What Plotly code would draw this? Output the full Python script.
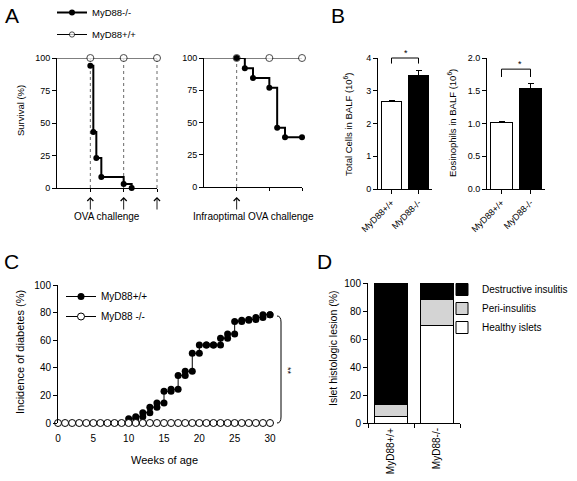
import plotly.graph_objects as go

W, H = 577, 481
FONT = "Liberation Sans, Arial, sans-serif"

# ---------------- Panel A data (survival) ----------------
ova_time_ko = [1.0, 1.09, 1.18, 1.33, 2.0, 2.24]
ova_surv_ko = [94, 43, 23, 8.5, 3, 0]
ova_time_wt = [0, 1, 2, 3]
ova_surv_wt = [100, 100, 100, 100]
ova_wt_marker = [0, 7, 7, 7]
inf_time_ko = [1.0, 1.25, 1.5, 2.0, 2.24, 2.48, 3.0]
inf_surv_ko = [100, 92, 84.5, 77, 46, 38.5, 38.5]
inf_time_wt = [0, 1, 2, 3]
inf_surv_wt = [100, 100, 100, 100]
ova_challenges = [1, 2, 3]
inf_challenges = [1]

# ---------------- Panel B data (BALF) ----------------
genotypes_b = ["MyD88+/+", "MyD88-/-"]
total_cells = [2.67, 3.48]
total_cells_err = [0.03, 0.14]
eosinophils = [1.01, 1.54]
eosinophils_err = [0.02, 0.07]
bar_colors_b = ["white", "black"]

# ---------------- Panel C data (diabetes incidence) ----------------
weeks_all = [0, 1, 2, 3, 4, 5, 6, 7, 8, 9, 10, 11, 12, 13, 14, 15, 16, 17, 18, 19, 20,
             21, 22, 23, 24, 25, 26, 27, 28, 29, 30]
ko_incidence = [0, 0, 0, 0, 0, 0, 0, 0, 0, 0, 0, 0, 0, 0, 0, 0, 0, 0, 0, 0, 0,
                0, 0, 0, 0, 0, 0, 0, 0, 0, 0]
wt_weeks = [10, 11, 12, 13, 14, 15, 16, 17, 18, 19, 20, 21, 22, 23, 24, 25, 26, 27, 28, 29, 30]
wt_incidence = [3, 4.5, 7.5, 11.5, 14.5, 23, 24.5, 34.5, 37.5, 50.5, 56.5, 56.5, 56.5,
                61.5, 64.5, 73.5, 74.5, 75, 76.5, 78.5, 78.5]
week_ticks = [0, 5, 10, 15, 20, 25, 30]

# ---------------- Panel D data (islet histology) ----------------
islet_groups = ["MyD88+/+", "MyD88-/-"]
healthy = [5, 69.5]
peri = [8.5, 19]
destructive = [86.5, 11.5]

# ---------------- layout geometry (pixels) ----------------
AX = {
    "A1": dict(x=(57, 157), y=(58, 188), xr=(0, 3), yr=(0, 100)),
    "A2": dict(x=(204, 302), y=(58, 187), xr=(0, 3), yr=(0, 100)),
    "B1": dict(x=(378, 432), y=(58, 189), xr=(-0.5, 1.5), yr=(0, 4)),
    "B2": dict(x=(487, 545), y=(58, 189), xr=(-0.5, 1.5), yr=(0, 2)),
    "C": dict(x=(58, 270), y=(285, 423), xr=(0, 30), yr=(0, 100)),
    "D": dict(x=(368, 460), y=(283, 423), xr=(-0.5, 1.5), yr=(0, 100)),
}


def px(xp):
    return xp / W


def py(yp):
    return 1 - yp / H


def dx(key, v):
    a = AX[key]
    return px(a["x"][0] + (v - a["xr"][0]) / (a["xr"][1] - a["xr"][0]) * (a["x"][1] - a["x"][0]))


def dy(key, v):
    a = AX[key]
    return py(a["y"][1] - (v - a["yr"][0]) / (a["yr"][1] - a["yr"][0]) * (a["y"][1] - a["y"][0]))


fig = go.Figure()

# ---- Panel A traces ----
fig.add_trace(go.Scatter(x=ova_time_ko, y=ova_surv_ko, mode="lines+markers", name="MyD88-/-",
                         line=dict(color="black", width=2, shape="hv"),
                         marker=dict(color="black", size=6), xaxis="x", yaxis="y",
                         legend="legend", legendgroup="a1", cliponaxis=False))
fig.add_trace(go.Scatter(x=ova_time_wt, y=ova_surv_wt, mode="lines+markers", name="MyD88+/+",
                         line=dict(color="black", width=1),
                         marker=dict(color="white", size=ova_wt_marker, line=dict(color="black", width=1)),
                         xaxis="x", yaxis="y", legend="legend", legendgroup="a2", cliponaxis=False))
fig.add_trace(go.Scatter(x=inf_time_wt, y=inf_surv_wt, mode="lines+markers", showlegend=False,
                         line=dict(color="black", width=1),
                         marker=dict(color="white", size=ova_wt_marker, line=dict(color="black", width=1)),
                         xaxis="x2", yaxis="y2", cliponaxis=False))
fig.add_trace(go.Scatter(x=inf_time_ko, y=inf_surv_ko, mode="lines+markers", showlegend=False,
                         line=dict(color="black", width=2, shape="hv"),
                         marker=dict(color="black", size=6), xaxis="x2", yaxis="y2", cliponaxis=False))

# ---- Panel B traces ----
fig.add_trace(go.Bar(x=genotypes_b, y=total_cells, width=0.72, showlegend=False,
                     marker=dict(color=bar_colors_b, line=dict(color="black", width=1)),
                     error_y=dict(type="data", array=total_cells_err, arrayminus=[0, 0],
                                  symmetric=False, color="black", thickness=1, width=3),
                     xaxis="x3", yaxis="y3"))
fig.add_trace(go.Bar(x=genotypes_b, y=eosinophils, width=0.78, showlegend=False,
                     marker=dict(color=bar_colors_b, line=dict(color="black", width=1)),
                     error_y=dict(type="data", array=eosinophils_err, arrayminus=[0, 0],
                                  symmetric=False, color="black", thickness=1, width=3),
                     xaxis="x4", yaxis="y4"))

# ---- Panel C traces ----
fig.add_trace(go.Scatter(x=wt_weeks, y=wt_incidence, mode="lines+markers", name="MyD88+/+",
                         line=dict(color="black", width=1, shape="hv"),
                         marker=dict(color="black", size=7), xaxis="x5", yaxis="y5",
                         legend="legend2", legendgroup="c1", cliponaxis=False))
fig.add_trace(go.Scatter(x=wt_weeks[1:], y=wt_incidence[:-1], mode="markers", showlegend=False,
                         marker=dict(color="black", size=7), xaxis="x5", yaxis="y5", cliponaxis=False))
fig.add_trace(go.Scatter(x=weeks_all, y=ko_incidence, mode="lines+markers", name="MyD88 -/-",
                         line=dict(color="black", width=1),
                         marker=dict(color="white", size=7, line=dict(color="black", width=1)),
                         xaxis="x5", yaxis="y5", legend="legend2", legendgroup="c2", cliponaxis=False))

# ---- Panel D traces ----
for name, vals, col in [("Healthy islets", healthy, "white"),
                        ("Peri-insulitis", peri, "#d4d4d4"),
                        ("Destructive insulitis", destructive, "black")]:
    fig.add_trace(go.Bar(x=islet_groups, y=vals, name=name, width=0.7,
                         marker=dict(color=col, line=dict(color="black", width=1)),
                         xaxis="x6", yaxis="y6", legend="legend3"))

# ---------------- axes ----------------
base = dict(showline=True, linecolor="black", linewidth=1, ticks="outside", ticklen=4,
            tickcolor="black", tickwidth=1, showgrid=False, zeroline=False,
            tickfont=dict(size=9, color="black", family=FONT))


def axdom(key):
    a = AX[key]
    return [px(a["x"][0]), px(a["x"][1])], [py(a["y"][1]), py(a["y"][0])]


axmap = {"A1": ("xaxis", "yaxis", "x", "y"), "A2": ("xaxis2", "yaxis2", "x2", "y2"),
         "B1": ("xaxis3", "yaxis3", "x3", "y3"), "B2": ("xaxis4", "yaxis4", "x4", "y4"),
         "C": ("xaxis5", "yaxis5", "x5", "y5"), "D": ("xaxis6", "yaxis6", "x6", "y6")}

lay = {}
for key, (xn, yn, xs, ys) in axmap.items():
    xdom, ydom = axdom(key)
    a = AX[key]
    lay[xn] = dict(base, domain=xdom, range=list(a["xr"]), anchor=ys)
    lay[yn] = dict(base, domain=ydom, range=list(a["yr"]), anchor=xs)

for k in ("xaxis", "xaxis2"):
    lay[k].update(tickvals=[1, 2, 3], showticklabels=False, ticklen=3)
for k in ("yaxis", "yaxis2"):
    lay[k].update(tickvals=[0, 25, 50, 75, 100])
lay["xaxis3"].update(type="category", tickangle=-45)
lay["xaxis4"].update(type="category", tickangle=-45)
lay["yaxis3"].update(tickvals=[0, 1, 2, 3, 4])
lay["yaxis4"].update(tickvals=[0, 0.5, 1.0, 1.5, 2.0], tickformat=".1f")
lay["xaxis5"].update(showline=False, tickvals=week_ticks, ticklen=6, tickcolor="rgba(0,0,0,0)",
                     tickfont=dict(size=10, color="black", family=FONT))
lay["yaxis5"].update(tickvals=[0, 20, 40, 60, 80, 100], tickfont=dict(size=10, color="black", family=FONT))
lay["xaxis6"].update(type="category", tickangle=-90, tickson="boundaries",
                     tickfont=dict(size=10, color="black", family=FONT))
lay["yaxis6"].update(tickvals=[0, 20, 40, 60, 80, 100], tickfont=dict(size=10, color="black", family=FONT))

fig.update_layout(**lay)

# ---------------- shapes ----------------
shapes = []
for t in ova_challenges:
    shapes.append(dict(type="line", xref="paper", yref="paper", x0=dx("A1", t), x1=dx("A1", t),
                       y0=dy("A1", 0), y1=dy("A1", 100), line=dict(color="#444", width=0.8, dash="dot"),
                       layer="below"))
for t in inf_challenges:
    shapes.append(dict(type="line", xref="paper", yref="paper", x0=dx("A2", t), x1=dx("A2", t),
                       y0=dy("A2", 0), y1=dy("A2", 100), line=dict(color="#444", width=0.8, dash="dot"),
                       layer="below"))


def bracket(key, x0, x1, ytop, yl, yr):
    return dict(type="path", xref="paper", yref="paper",
                path=f"M {dx(key, x0)},{dy(key, yl)} L {dx(key, x0)},{dy(key, ytop)} "
                     f"L {dx(key, x1)},{dy(key, ytop)} L {dx(key, x1)},{dy(key, yr)}",
                line=dict(color="black", width=1))


shapes.append(bracket("B1", 0, 1, 4.0, 3.83, 3.83))
shapes.append(bracket("B2", 0, 1, 1.83, 1.71, 1.71))

# C bracket (curly-ish)
bx0, bx1 = px(277), px(281)
shapes.append(dict(type="path", xref="paper", yref="paper",
                   path=f"M {bx0},{py(316)} Q {bx1},{py(316)} {bx1},{py(322)} L {bx1},{py(417)} "
                        f"Q {bx1},{py(423)} {bx0},{py(423)}",
                   line=dict(color="black", width=1)))
fig.update_layout(shapes=shapes)

# ---------------- annotations ----------------
ann = []


def text(x, y, s, size=10, angle=0, xanchor="center", yanchor="middle"):
    ann.append(dict(x=px(x), y=py(y), xref="paper", yref="paper", text=s, showarrow=False,
                    textangle=angle, xanchor=xanchor, yanchor=yanchor,
                    font=dict(size=size, color="black", family=FONT)))


text(12, 15, "A", 21)
text(338, 15, "B", 21)
text(11, 261, "C", 21)
text(324, 261, "D", 21)

text(20, 111, "Survival (%)", 9.5, -90)
text(107, 216, "OVA challenge", 10)
text(253, 216, "Infraoptimal OVA challenge", 10)
text(348, 124, "Total Cells in BALF (10<sup>6</sup>)", 9.5, -90)
text(452, 123, "Eosinophils in BALF (10<sup>6</sup>)", 9.5, -90)
text(406, 53, "*", 9)
text(520, 64, "*", 9)
text(20, 352, "Incidence of diabetes (%)", 11, -90)
text(165, 460, "Weeks of age", 11)
text(288, 371, "**", 9, 90)
text(333, 348, "Islet histologic lesion (%)", 10.5, -90)

for t in ova_challenges:
    ann.append(dict(x=t, xref="x", y=py(197), yref="paper", ax=0, ay=14, showarrow=True,
                    arrowhead=4, arrowsize=1.3, arrowwidth=0.9, arrowcolor="black", text=""))
for t in inf_challenges:
    ann.append(dict(x=t, xref="x2", y=py(197), yref="paper", ax=0, ay=14, showarrow=True,
                    arrowhead=4, arrowsize=1.3, arrowwidth=0.9, arrowcolor="black", text=""))
fig.update_layout(annotations=ann)

# ---------------- legends ----------------
leg_common = dict(xanchor="left", yanchor="top", bgcolor="rgba(0,0,0,0)", borderwidth=0,
                  traceorder="grouped")
fig.update_layout(
    legend=dict(leg_common, x=px(52), y=py(-2), tracegroupgap=3,
                font=dict(size=9.5, color="black", family=FONT)),
    legend2=dict(leg_common, x=px(61), y=py(282), tracegroupgap=1,
                 font=dict(size=10, color="black", family=FONT)),
    legend3=dict(xanchor="left", yanchor="top", bgcolor="rgba(0,0,0,0)", x=px(442), y=py(275),
                 traceorder="reversed", font=dict(size=10, color="black", family=FONT)),
)

fig.update_layout(width=W, height=H, margin=dict(l=0, r=0, t=0, b=0, autoexpand=False),
                  barmode="stack", paper_bgcolor="white", plot_bgcolor="white",
                  font=dict(family=FONT, color="black"))

fig.write_html("out.html", config={"displayModeBar": False},
               post_script="document.body.style.margin='0px';")
